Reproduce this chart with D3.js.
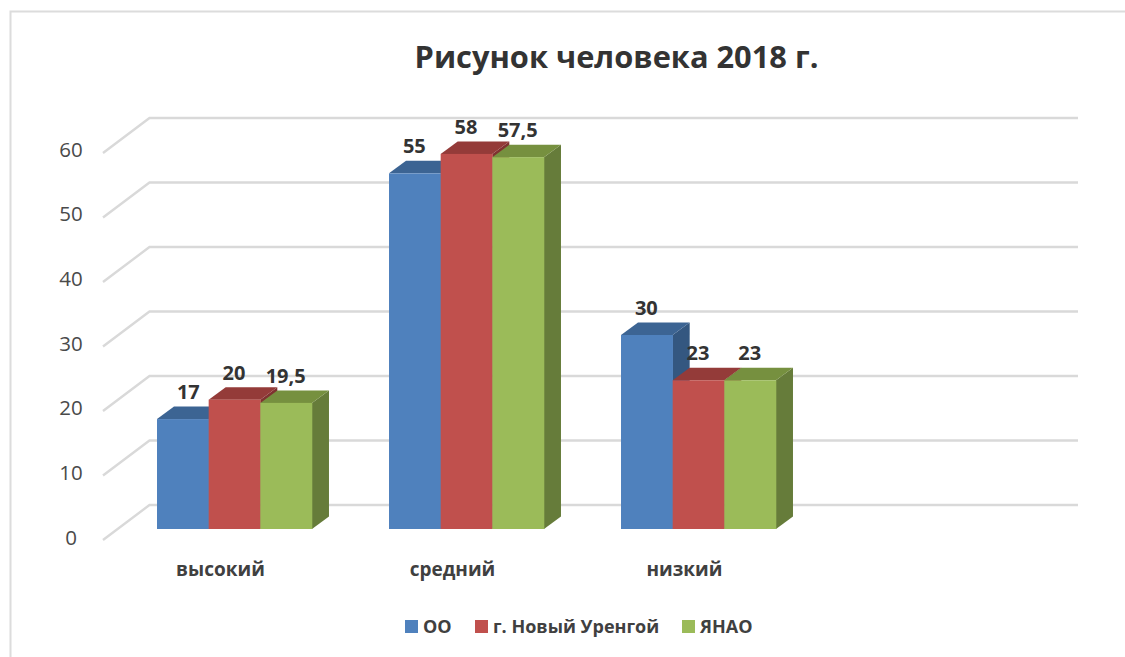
<!DOCTYPE html>
<html><head><meta charset="utf-8">
<style>html,body{margin:0;padding:0;background:#fff;overflow:hidden}svg{display:block}text{font-family:"Open Sans","Noto Sans",sans-serif}</style>
<script src="https://cdn.jsdelivr.net/npm/d3@7/dist/d3.min.js"></script>
</head><body><svg id="c" width="1125" height="657"></svg>
<script>
const title = "Рисунок человека 2018 г.";
const categories = ["высокий", "средний", "низкий", ""];
const seriesNames = ["ОО", "г. Новый Уренгой", "ЯНАО"];
const seriesOO = [17, 55, 30];
const seriesUrengoy = [20, 58, 23];
const seriesYanao = [19.5, 57.5, 23];
const labelsOO = ["17", "55", "30"];
const labelsUrengoy = ["20", "58", "23"];
const labelsYanao = ["19,5", "57,5", "23"];
const tickValues = [0, 10, 20, 30, 40, 50, 60];
const frontColors = ["#4f81bd", "#c0504d", "#9bbb59"];
const topColors = ["#3c6493", "#943b39", "#76903f"];
const sideColors = ["#345780", "#7f3230", "#667c3a"];

const svg = d3.select("#c");
// frame
svg.append("path").attr("d", "M1125 11.5H10.5V657").attr("fill", "none").attr("stroke", "#dcdcdc").attr("stroke-width", 2);

const yFront = d3.scaleLinear().domain([0, 60]).range([529, 141]);
const yBack = d3.scaleLinear().domain([0, 60]).range([505, 118]);
const yTick = d3.scaleLinear().domain([0, 60]).range([537.5, 149.5]);
const xCat = d3.scaleBand().domain(categories).range([118.5, 1046.5]).paddingInner(0.332).paddingOuter(0.166);
const xBar = d3.scaleBand().domain(d3.range(3)).range([0, xCat.bandwidth()]);
const dx = 17, dy = 12.5;

// wall gridlines
const grid = svg.append("g").attr("fill", "none").attr("stroke", "#d9d9d9").attr("stroke-width", 2.4);
grid.selectAll("path").data(tickValues).join("path")
  .attr("d", v => `M103 ${yBack(v) + 35}L149.5 ${yBack(v)}H1078`);

// tick labels
svg.append("g").selectAll("text").data(tickValues).join("text")
  .attr("x", 71).attr("y", yTick).attr("dy", "0.35em").attr("text-anchor", "middle")
  .attr("font-size", 20.5).attr("fill", "#4a4a4a").text(d => d);

// bars
const values = [seriesOO, seriesUrengoy, seriesYanao];
const labels = [labelsOO, labelsUrengoy, labelsYanao];
const barData = categories.slice(0, 3).flatMap((c, i) => values.map((s, k) => ({c, k, v: s[i], label: labels[k][i]})));
const bars = svg.append("g").selectAll("g").data(barData).join("g");
const bx = d => xCat(d.c) + xBar(d.k), bw = xBar.bandwidth();
bars.append("path").attr("fill", d => sideColors[d.k])
  .attr("d", d => `M${bx(d) + bw} ${yFront(d.v)}l${dx} ${-dy}V${yFront(0) - dy}l${-dx} ${dy}Z`);
bars.append("path").attr("fill", d => topColors[d.k])
  .attr("d", d => `M${bx(d)} ${yFront(d.v)}l${dx} ${-dy}h${bw}l${-dx} ${dy}Z`);
bars.append("rect").attr("fill", d => frontColors[d.k])
  .attr("x", bx).attr("y", d => yFront(d.v)).attr("width", bw + 0.3).attr("height", d => yFront(0) - yFront(d.v));

// value labels
svg.append("g").selectAll("text").data(barData).join("text")
  .attr("x", d => bx(d) + bw / 2 + (d.v === 17 ? 6 : 0) - 0.5).attr("y", d => yFront(d.v) - 27).attr("dy", "0.35em")
  .attr("text-anchor", "middle").attr("font-size", 20).attr("font-weight", 700).attr("fill", "#333").text(d => d.label);

// category labels
svg.append("g").selectAll("text").data(categories.slice(0, 3)).join("text")
  .attr("x", c => xCat(c) + xCat.bandwidth() / 2 - 14).attr("y", 569).attr("dy", "0.35em")
  .attr("text-anchor", "middle").attr("font-size", 19).attr("font-weight", 700).attr("fill", "#404040").text(c => c);

// title
svg.append("text").attr("x", 616.5).attr("y", 57).attr("dy", "0.35em").attr("text-anchor", "middle")
  .attr("font-size", 30.8).attr("font-weight", 700).attr("fill", "#333").text(title);

// legend
const legendX = [405, 475, 682];
const leg = svg.append("g").selectAll("g").data(seriesNames).join("g")
  .attr("transform", (d, i) => `translate(${legendX[i]},620)`);
leg.append("rect").attr("width", 13).attr("height", 13).attr("fill", (d, i) => frontColors[i]);
leg.append("text").attr("x", 18).attr("y", 6.5).attr("dy", "0.35em").attr("font-size", 18).attr("font-weight", 700).attr("fill", "#404040").text(d => d);
</script></body></html>
